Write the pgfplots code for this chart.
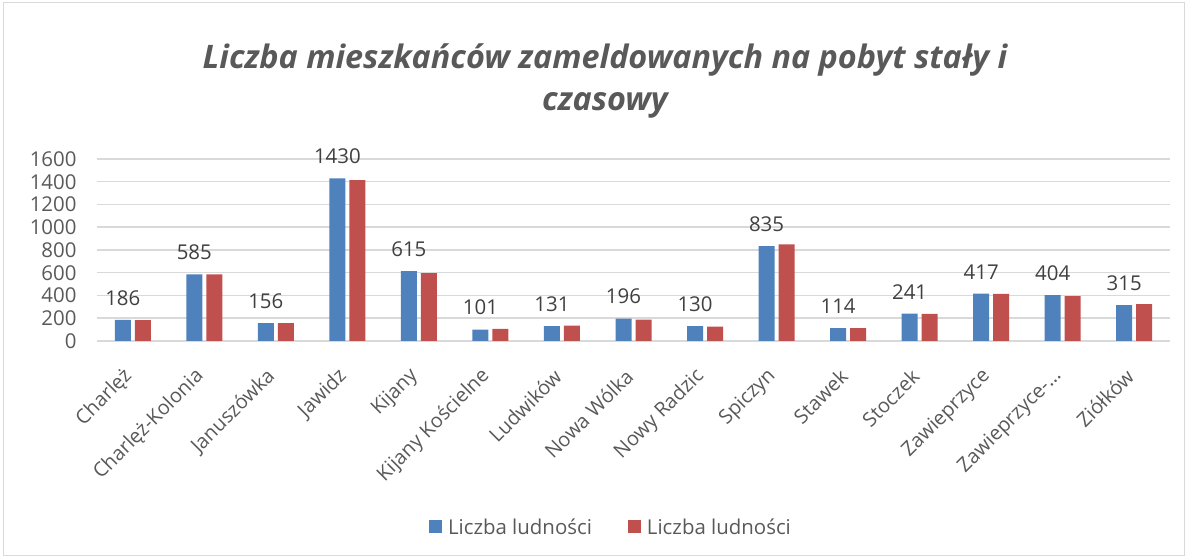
\documentclass[border=0pt]{standalone}
\usepackage{pgfplots}
\pgfplotsset{compat=1.18}
\usepackage{fontspec}
\setmainfont{Open Sans}
\definecolor{cblue}{HTML}{4F81BD}
\definecolor{cred}{HTML}{C0504D}
\definecolor{tgray}{HTML}{595959}
\definecolor{lgray}{HTML}{404040}
\definecolor{ggray}{HTML}{D9D9D9}
\newcommand{\lbl}{\fontsize{20.5}{24}\selectfont}
\begin{document}
\begin{tikzpicture}[x=1bp,y=1bp]
\path[use as bounding box] (0,0) rectangle (1187,559);
\draw[ggray, line width=1bp] (3,3) rectangle (1184,556);
\node[font=\fontsize{32.5}{43}\selectfont\bfseries\itshape, text=tgray, align=center]
  at (605,478) {Liczba mieszkańców zameldowanych na pobyt stały i\\czasowy};
\begin{axis}[
  at={(97bp,218bp)}, anchor=south west,
  scale only axis, width=1073bp, height=182bp,
  xmin=-0.5, xmax=14.5, ymin=0, ymax=1600,
  ybar=4bp, bar width=16bp,
  xtick={0,...,14},
  xticklabels={Charlęż, Charlęż-Kolonia, Januszówka, Jawidz, Kijany, Kijany Kościelne,
    Ludwików, Nowa Wólka, Nowy Radzic, Spiczyn, Stawek, Stoczek, Zawieprzyce,
    Zawieprzyce-…, Ziółków},
  ytick={0,200,...,1600},
  major tick length=0pt,
  ymajorgrids, grid style={ggray, line width=1.5bp},
  separate axis lines,
  y axis line style={draw=none},
  x axis line style={ggray, line width=1.5bp},
  axis x line*=bottom,
  scaled y ticks=false,
  /pgf/number format/assume math mode=true,
  /pgf/number format/1000 sep={},
  yticklabel style={font=\lbl, text=tgray, xshift=-17bp},
  xticklabel style={yshift=-32bp, xshift=-4bp, rotate=45, anchor=east,
    font=\fontsize{20}{24}\selectfont, text=tgray, inner sep=0pt},
  legend style={at={(0.479,-1.022)}, anchor=center, draw=none, fill=none,
    legend columns=2, font=\lbl, text=tgray,
    /tikz/every odd column/.append style={column sep=4bp},
    /tikz/every even column/.append style={column sep=34bp}},
  legend image code/.code={\fill[#1] (0bp,-6.5bp) rectangle (13bp,6.5bp);},
]
\addplot[fill=cblue, draw=none, nodes near coords,
  nodes near coords style={font=\lbl, text=lgray, anchor=south, yshift=11bp}]
  coordinates {(0,186)(1,585)(2,156)(3,1430)(4,615)(5,101)(6,131)(7,196)
    (8,130)(9,835)(10,114)(11,241)(12,417)(13,404)(14,315)};
\addlegendentry{Liczba ludności}
\addplot[fill=cred, draw=none]
  coordinates {(0,184)(1,585)(2,156)(3,1415)(4,597)(5,107)(6,134)(7,187)
    (8,127)(9,850)(10,114)(11,238)(12,414)(13,395)(14,325)};
\addlegendentry{Liczba ludności}
\end{axis}
\end{tikzpicture}
\end{document}
